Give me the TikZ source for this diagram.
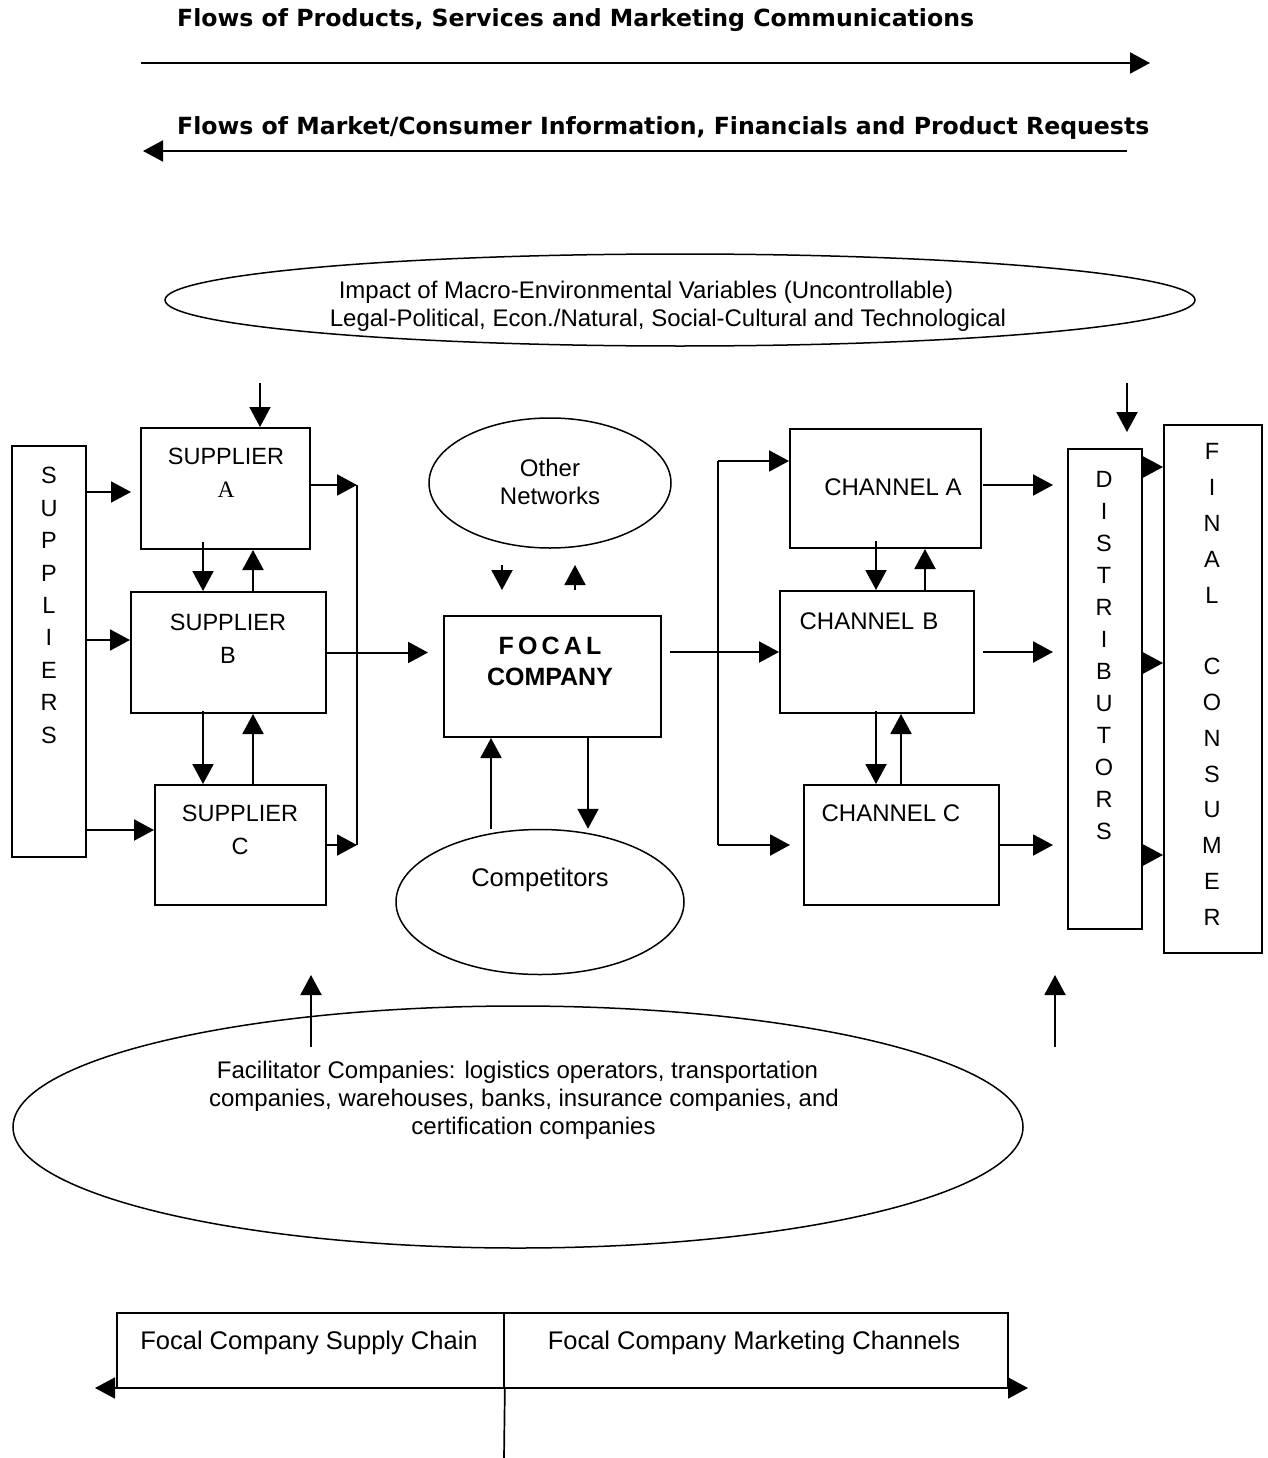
\documentclass[tikz,border=0pt]{standalone}
\usepackage{fontspec}
\setmainfont{Liberation Sans}
\newfontfamily\serifA{Liberation Serif}
\newfontfamily\titlefont{DejaVu Sans}
\usetikzlibrary{arrows.meta,shapes.geometric}
\begin{document}
\begin{tikzpicture}[x=1pt,y=-1pt,
  arr/.style={-{Triangle[length=20pt,width=21pt]}, line width=2pt},
  dbl/.style={{Triangle[length=20pt,width=21pt]}-{Triangle[length=20pt,width=21pt]}, line width=1.7pt},
  ln/.style={line width=2pt},
  box/.style={draw, line width=2pt, rectangle, inner sep=0pt},
  oval/.style={draw, line width=1.5pt, ellipse, inner sep=0pt},
  txt/.style={font=\fontsize{24}{28}\selectfont, inner sep=0pt, align=center},
  lbl/.style={font=\fontsize{23.5}{33}\selectfont, inner sep=0pt, align=center},
  ttl/.style={font=\titlefont\bfseries\fontsize{23.6}{27}\selectfont, inner sep=0pt, anchor=west}
]
\fill[white] (0,0) rectangle (1267,1458);
\useasboundingbox (0,0) rectangle (1267,1458);

% ---- top flows
\node[ttl] (t1) at (177,20) {Flows of Products, Services and Marketing Communications};
\coordinate (f1s) at (141,63);
\coordinate (f1e) at (1150,63);
\draw[arr] (f1s) -- (f1e);
\node[ttl] (t2) at (177,128) {Flows of Market/Consumer Information, Financials and Product Requests};
\coordinate (f2s) at (1127,151);
\coordinate (f2e) at (143,151);
\draw[arr] (f2s) -- (f2e);

% ---- macro ellipse
\node[oval, minimum width=1030pt, minimum height=92pt] (macro) at (680,300) {};
\node[txt] (macrot) at (668,306) {Impact of Macro-Environmental Variables (Uncontrollable)\hspace*{44pt}\\
Legal-Political, Econ./Natural, Social-Cultural and Technological};

% ---- boxes
\node[box, minimum width=74pt, minimum height=411pt] (sups) at (49,651.5) {};
\node[font=\fontsize{23.5}{32.4}\selectfont, inner sep=0pt, align=center] (supst) at (49,605.5)
  {S\\U\\P\\P\\L\\I\\E\\R\\S};
\node[box, minimum width=169pt, minimum height=121pt] (supA) at (225.5,488.5) {};
\node[lbl] (supAt) at (226,472.5) {SUPPLIER\\{\serifA A}};
\node[box, minimum width=195pt, minimum height=121pt] (supB) at (228.5,652.5) {};
\node[lbl] (supBt) at (228,638.5) {SUPPLIER\\B};
\node[box, minimum width=171pt, minimum height=120pt] (supC) at (240.5,845) {};
\node[lbl] (supCt) at (240,830) {SUPPLIER\\C};

\node[box, minimum width=217pt, minimum height=121pt] (foc) at (552.5,676.5) {};
\node[font=\bfseries\fontsize{25}{31}\selectfont, inner sep=0pt, align=center] (foct) at (550,661.5)
  {F\,O\,C\,A\,L\\COMPANY};

\node[oval, minimum width=242pt, minimum height=130pt] (other) at (550,483) {};
\node[txt] (othert) at (550,482) {Other\\Networks};
\node[oval, minimum width=288pt, minimum height=145pt] (comp) at (540,902) {};
\node[txt, font=\fontsize{25.5}{28}\selectfont] (compt) at (540,880) {Competitors};

\node[box, minimum width=191pt, minimum height=119pt] (chA) at (885.5,488.5) {};
\node[txt] (chAt) at (893,487) {CHANNEL A};
\node[box, minimum width=194pt, minimum height=122pt] (chB) at (877,652) {};
\node[txt] (chBt) at (869,621) {CHANNEL\,\,B};
\node[box, minimum width=195pt, minimum height=120pt] (chC) at (901.5,845) {};
\node[txt] (chCt) at (891,813) {CHANNEL C};

\node[box, minimum width=74pt, minimum height=480pt] (dist) at (1105,689) {};
\node[font=\fontsize{23.5}{32}\selectfont, inner sep=0pt, align=center] (distt) at (1104,656)
  {D\\I\\S\\T\\R\\I\\B\\U\\T\\O\\R\\S};
\node[box, minimum width=98pt, minimum height=528pt] (fin) at (1213,689) {};
\node[font=\fontsize{23.5}{35.8}\selectfont, inner sep=0pt, align=center] (fint) at (1212,684.5)
  {F\\I\\N\\A\\L\\~\\C\\O\\N\\S\\U\\M\\E\\R};

% ---- facilitator ellipse
\node[oval, minimum width=1010pt, minimum height=242pt] (fac) at (518,1127) {};
\node[txt] (fact) at (524,1100) {Facilitator Companies: logistics operators, transportation\hspace*{13pt}\\
companies, warehouses, banks, insurance companies, and\\
\hspace*{19pt}certification companies};

% ---- bottom boxes
\node[box, line width=1.7pt, minimum width=387pt, minimum height=75pt] (scbox) at (310.5,1350.5) {};
\node[box, line width=1.7pt, minimum width=504pt, minimum height=75pt] (mcbox) at (756,1350.5) {};
\node[txt, font=\fontsize{25.5}{28}\selectfont] (sct) at (309,1343) {Focal Company Supply Chain};
\node[txt, font=\fontsize{25.5}{28}\selectfont] (mct) at (754,1343) {Focal Company Marketing Channels};
\coordinate (bl) at (95,1388);
\coordinate (br) at (1028,1388);
\draw[dbl] (bl) -- (br);
\coordinate (bot) at (504,1458);
\draw[line width=1.7pt] (scbox.south east) -- (bot);

% ---- helper coordinates
\coordinate (y492) at (0,492);
\coordinate (y640) at (0,640);
\coordinate (y830) at (0,830);
\coordinate (x131) at (131,0);
\coordinate (xcol) at (357,0);
\coordinate (y485) at (0,485);
\coordinate (y845) at (0,845);
\coordinate (x428) at (428,0);
\coordinate (x203) at (203,0);
\coordinate (x253) at (253,0);
\coordinate (x260) at (260,0);
\coordinate (y383) at (0,383);
\coordinate (x502) at (502,0);
\coordinate (x575) at (575,0);
\coordinate (y565) at (0,565);
\coordinate (y590) at (0,590);
\coordinate (x491) at (491,0);
\coordinate (x588) at (588,0);
\coordinate (x670) at (670,0);
\coordinate (xrow) at (718,0);
\coordinate (y461) at (0,461);
\coordinate (x790) at (790,0);
\coordinate (x876) at (876,0);
\coordinate (x925) at (925,0);
\coordinate (x901) at (901,0);
\coordinate (x983) at (983,0);
\coordinate (x1053) at (1053,0);
\coordinate (y467) at (0,467);
\coordinate (y663) at (0,663);
\coordinate (y855) at (0,855);
\coordinate (x1127) at (1127,0);
\coordinate (y432) at (0,432);
\coordinate (x311) at (311,0);
\coordinate (x1055) at (1055,0);
\coordinate (y1047) at (0,1047);
\coordinate (y975) at (0,975);

% ---- supplier side connectors
\draw[arr] (sups.east |- y492) -- (x131 |- y492);
\draw[arr] (sups.east |- y640) -- (supB.west |- y640);
\draw[arr] (sups.east |- y830) -- (supC.west |- y830);
\draw[arr] (supA.east |- y485) -- (xcol |- y485);
\draw[ln] (xcol |- y485) -- (xcol |- y845);
\draw[arr] (supC.east |- y845) -- (xcol |- y845);
\draw[arr] (supB.east) -- (x428 |- supB.east);
\draw[arr] ([yshift=8pt]x203 |- supA.south) -- (x203 |- supB.north);
\draw[arr] (x253 |- supB.north) -- (x253 |- supA.south);
\draw[arr] ([yshift=3pt]x203 |- supB.south) -- (x203 |- supC.north);
\draw[arr] (x253 |- supC.north) -- (x253 |- supB.south);
\draw[arr] (x260 |- y383) -- (x260 |- supA.north);

% ---- focal connectors
\draw[arr] (x502 |- y565) -- (x502 |- y590);
\draw[arr] (x575 |- y590) -- (x575 |- y565);
\draw[arr] (x491 |- comp.north) -- (x491 |- foc.south);
\draw[arr] (x588 |- foc.south) -- (x588 |- comp.north);
\draw[arr] (x670 |- chB.west) -- (chB.west);
\draw[ln] (xrow |- y461) -- (xrow |- y845);
\draw[arr] (xrow |- y461) -- (chA.west |- y461);
\draw[arr] (xrow |- y845) -- (x790 |- y845);

% ---- channel connectors
\draw[arr] ([yshift=8pt]x876 |- chA.south) -- (x876 |- chB.north);
\draw[arr] (x925 |- chB.north) -- (x925 |- chA.south);
\draw[arr] ([yshift=3pt]x876 |- chB.south) -- (x876 |- chC.north);
\draw[arr] (x901 |- chC.north) -- (x901 |- chB.south);
\draw[arr] (x983 |- y485) -- (x1053 |- y485);
\draw[arr] (x983 |- chB.east) -- (x1053 |- chB.east);
\draw[arr] (chC.east |- y845) -- (x1053 |- y845);
\draw[arr] (dist.east |- y467) -- (fin.west |- y467);
\draw[arr] (dist.east |- y663) -- (fin.west |- y663);
\draw[arr] (dist.east |- y855) -- (fin.west |- y855);
\draw[arr] (x1127 |- y383) -- (x1127 |- y432);

% ---- facilitator arrows
\draw[arr] (x311 |- y1047) -- (x311 |- y975);
\draw[arr] (x1055 |- y1047) -- (x1055 |- y975);
\end{tikzpicture}
\end{document}
